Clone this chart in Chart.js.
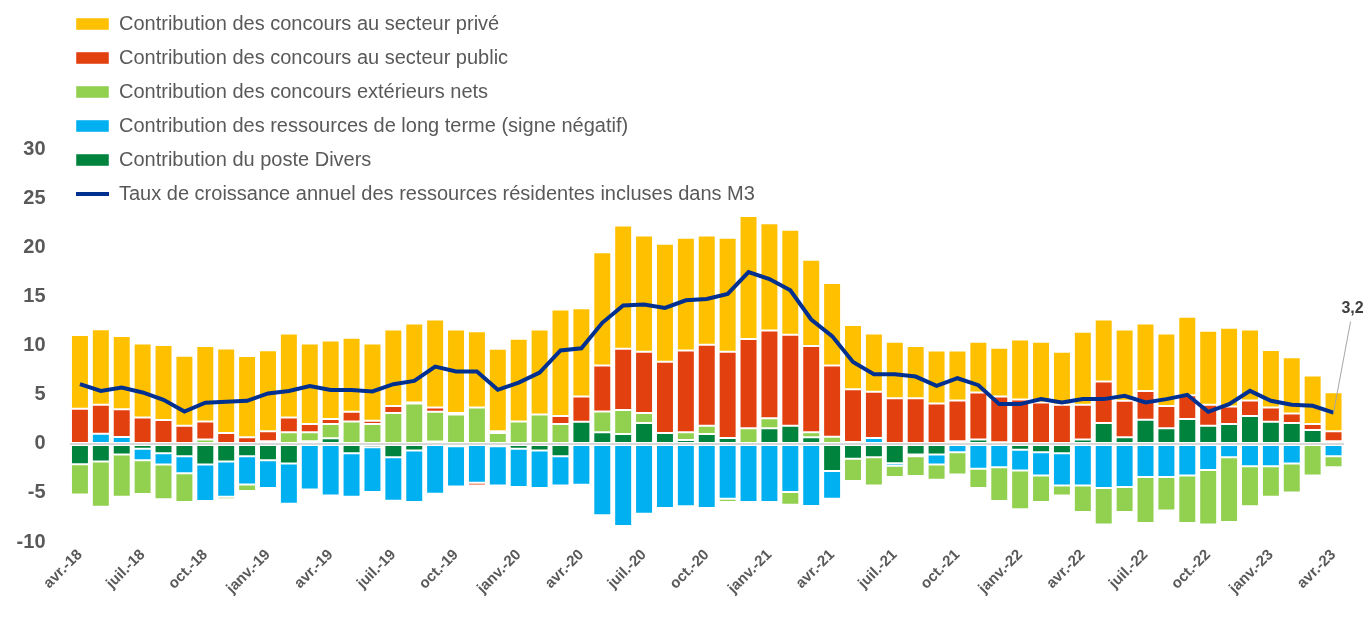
<!DOCTYPE html>
<html lang="fr">
<head>
<meta charset="utf-8">
<title>Contributions à la croissance des ressources résidentes incluses dans M3</title>
<script src="https://cdn.jsdelivr.net/npm/chart.js@4.4.1/dist/chart.umd.min.js"></script>
<style>
  html, body { margin: 0; padding: 0; background: #ffffff; }
  #wrap { position: relative; width: 1365px; height: 624px; }
</style>
</head>
<body>
<div id="wrap"><canvas id="chart"></canvas></div>
<script>
const months = [
  'avr.-18', 'mai-18', 'juin-18', 'juil.-18', 'août-18', 'sept.-18', 'oct.-18', 'nov.-18', 'déc.-18',
  'janv.-19', 'févr.-19', 'mars-19', 'avr.-19', 'mai-19', 'juin-19', 'juil.-19', 'août-19', 'sept.-19', 'oct.-19', 'nov.-19', 'déc.-19',
  'janv.-20', 'févr.-20', 'mars-20', 'avr.-20', 'mai-20', 'juin-20', 'juil.-20', 'août-20', 'sept.-20', 'oct.-20', 'nov.-20', 'déc.-20',
  'janv.-21', 'févr.-21', 'mars-21', 'avr.-21', 'mai-21', 'juin-21', 'juil.-21', 'août-21', 'sept.-21', 'oct.-21', 'nov.-21', 'déc.-21',
  'janv.-22', 'févr.-22', 'mars-22', 'avr.-22', 'mai-22', 'juin-22', 'juil.-22', 'août-22', 'sept.-22', 'oct.-22', 'nov.-22', 'déc.-22',
  'janv.-23', 'févr.-23', 'mars-23', 'avr.-23'
];

const privateSector = [
  7.5, 7.7, 7.45, 7.55, 7.65, 7.15, 7.7, 8.6, 8.3,
  8.26, 8.57, 8.22, 8.02, 7.55, 7.88, 7.81, 8.05, 8.97, 8.52, 7.78, 8.42,
  8.43, 8.66, 10.86, 9.0, 11.57, 12.56, 11.84, 12.02, 11.48, 11.13, 11.61, 12.56,
  10.93, 10.7, 8.8, 8.42, 6.54, 5.96, 5.75, 5.31, 5.41, 5.11, 5.17, 4.97,
  6.13, 6.19, 5.42, 7.45, 6.33, 7.27, 6.87, 7.41, 7.99, 7.55, 8.02, 7.24,
  5.86, 5.72, 4.94, 3.99
];

const publicSector = [
  3.6, 2.95, 2.85, 2.7, 2.45, 1.85, 1.86, 1.12, 0.68,
  1.02, 1.52, 0.85, 0.51, 0.98, 0.34, 0.71, 0.1, 0.44, 0.14, -0.27, 0.17,
  -0.1, -0.14, 0.81, 2.57, 4.67, 6.26, 6.26, 7.27, 8.36, 8.26, 8.8, 9.1,
  8.96, 9.27, 8.8, 7.25, 5.38, 4.7, 4.67, 4.67, 4.13, 4.16, 4.81, 4.67,
  4.53, 4.23, 3.99, 3.55, 4.23, 3.72, 2.94, 2.27, 2.43, 2.13, 1.79, 1.59,
  1.45, 0.98, 0.61, 1.02
];

const externalNet = [
  -3.1, -4.6, -4.3, -3.45, -3.55, -2.94, 0.44, -0.27, -0.67,
  0.27, 1.18, 0.91, 1.45, 2.3, 2.03, 3.15, 4.13, 3.04, 3.01, 3.72, 1.12,
  2.3, 3.01, 2.03, -0.1, 2.14, 2.43, 1.02, -0.14, 0.77, 0.84, -0.34, 1.59,
  1.02, -1.28, 0.5, 0.74, -2.27, -2.88, -1.15, -2.03, -1.55, -2.26, -1.96, -3.45,
  -3.96, -2.71, -1.02, -2.71, -3.72, -2.54, -4.67, -3.42, -4.84, -5.55, -6.6, -4.09,
  -3.11, -2.94, -3.21, -1.12
];

const longTerm = [
  0, 1.05, 0.7, -1.16, -1.15, -1.73, -3.72, -3.58, -2.88,
  -2.84, -4.1, -4.64, -5.25, -4.43, -4.56, -4.44, -5.24, -5.08, -4.09, -3.96, -3.99,
  -3.9, -3.82, -2.98, -4.16, -7.28, -8.36, -7.11, -6.53, -6.36, -6.53, -5.58, -5.92,
  -5.92, -4.91, -6.33, -2.81, 0.2, 0.61, -0.27, -0.17, -1.02, -0.85, -2.54, -2.37,
  -2.13, -2.36, -3.28, -4.23, -4.5, -4.4, -3.38, -3.38, -3.21, -2.67, -1.35, -2.27,
  -2.27, -2.0, 0, -1.25
];

const divers = [
  -2.06, -1.8, -1.08, -0.5, -0.95, -1.25, -2.1, -1.8, -1.25,
  -1.66, -2.0, 0.27, 0.58, -0.95, -0.34, -1.35, -0.68, 0.24, -0.24, 0, -0.24,
  -0.5, -0.68, -1.25, 2.27, 1.18, 1.02, 2.13, 1.12, 0.41, 1.02, 0.61, 0,
  1.59, 1.86, 0.68, -2.77, -1.52, -1.35, -1.96, -1.08, -1.08, 0.27, 0.44, 0.17,
  -0.58, -0.85, -0.95, 0.44, 2.13, 0.68, 2.47, 1.59, 2.54, 1.86, 2.03, 2.84,
  2.27, 2.13, 1.42, 0.27
];

const growthM3 = [
  6.1, 5.4, 5.75, 5.25, 4.5, 3.3, 4.2, 4.3, 4.4,
  5.15, 5.4, 5.9, 5.5, 5.5, 5.35, 6.09, 6.43, 7.88, 7.38, 7.38, 5.52,
  6.26, 7.28, 9.54, 9.75, 12.35, 14.11, 14.21, 13.87, 14.65, 14.79, 15.3, 17.53,
  16.82, 15.67, 12.69, 11.0, 8.36, 7.11, 7.11, 6.87, 5.92, 6.7, 5.99, 4.06,
  4.06, 4.57, 4.23, 4.57, 4.57, 4.91, 4.23, 4.57, 5.01, 3.28, 4.06, 5.41,
  4.4, 3.99, 3.89, 3.2
];

const yTicksShown = [30, 25, 20, 15, 10, 5, 0, -5, -10];

const textGrey = '#595959';
const fontName = '"Liberation Sans", Arial, sans-serif';

// étiquette de la dernière valeur avec son trait de rappel
const lastValueLabel = {
    id: 'lastValueLabel',
    afterDatasetsDraw(chart) {
        const meta = chart.getDatasetMeta(0);
        const pt = meta.data[meta.data.length - 1];
        const ctx = chart.ctx;
        ctx.save();
        ctx.strokeStyle = '#a6a6a6';
        ctx.lineWidth = 1;
        ctx.beginPath();
        ctx.moveTo(pt.x, pt.y);
        ctx.lineTo(pt.x + 17, pt.y - 91);
        ctx.stroke();
        ctx.font = 'bold 16px ' + fontName;
        ctx.fillStyle = '#404040';
        ctx.textAlign = 'center';
        ctx.textBaseline = 'middle';
        ctx.fillText(String(growthM3[growthM3.length - 1]).replace('.', ','), pt.x + 19, pt.y - 104);
        ctx.restore();
    }
};

// la légende démarre un peu plus à gauche que la zone de tracé
const legendShift = {
    id: 'legendShift',
    afterLayout(chart) {
        if (chart.legend) chart.legend.left -= 7.5;
    }
};

function barSet(label, data, color) {
    return {
        type: 'bar',
        label: label,
        data: data,
        backgroundColor: color,
        borderColor: 'rgba(255,255,255,0.45)',
        borderWidth: 1,
        borderSkipped: false,
        pointStyle: 'rect',
        stack: 'contrib',
        categoryPercentage: 1,
        barPercentage: 0.86
    };
}

new Chart(document.getElementById('chart').getContext('2d'), {
    data: {
        labels: months,
        datasets: [
            {
                type: 'line',
                label: 'Taux de croissance annuel des ressources résidentes incluses dans M3',
                data: growthM3,
                borderColor: '#00308f',
                backgroundColor: '#00308f',
                borderWidth: 4,
                pointRadius: 0,
                pointHoverRadius: 0,
                pointStyle: 'line',
                pointBorderColor: '#00308f',
                pointBorderWidth: 4,
                tension: 0,
                stack: 'growth',
                order: 0
            },
            barSet('Contribution du poste Divers', divers, '#00843d'),
            barSet('Contribution des ressources de long terme (signe négatif)', longTerm, '#00b0f0'),
            barSet('Contribution des concours extérieurs nets', externalNet, '#92d050'),
            barSet('Contribution des concours au secteur public', publicSector, '#e2400f'),
            barSet('Contribution des concours au secteur privé', privateSector, '#ffc000')
        ]
    },
    options: {
        responsive: true,
        maintainAspectRatio: false,
        animation: false,
        layout: { padding: { top: 9, right: 21, left: 0, bottom: 0 } },
        plugins: {
            legend: {
                position: 'chartArea',
                align: 'start',
                reverse: true,
                labels: {
                    usePointStyle: true,
                    pointStyleWidth: 33,
                    boxHeight: 12,
                    padding: 14,
                    color: textGrey,
                    font: { family: fontName, size: 20 }
                }
            },
            tooltip: { enabled: false }
        },
        scales: {
            x: {
                stacked: true,
                grid: { display: false, drawTicks: false },
                border: { display: false },
                ticks: {
                    autoSkip: false,
                    maxRotation: 45,
                    minRotation: 45,
                    padding: 4,
                    color: textGrey,
                    font: { family: fontName, size: 15, weight: 'bold' },
                    callback: function (value, index) {
                        return index % 3 === 0 ? months[index] : null;
                    }
                },
                afterFit: (scale) => { scale.height = 82; }
            },
            y: {
                stacked: true,
                min: -10,
                max: 41.6,
                border: { display: false },
                grid: {
                    drawTicks: false,
                    lineWidth: 2,
                    color: (c) => (c.tick && c.tick.value === 0 ? '#d9d9d9' : 'rgba(0,0,0,0)')
                },
                ticks: {
                    stepSize: 5,
                    padding: 24,
                    color: textGrey,
                    font: { family: fontName, size: 20, weight: 'bold' },
                    callback: (value) => (yTicksShown.includes(value) ? value : null)
                },
                afterFit: (scale) => { scale.width = 69.5; }
            }
        }
    },
    plugins: [lastValueLabel, legendShift]
});
</script>
</body>
</html>
